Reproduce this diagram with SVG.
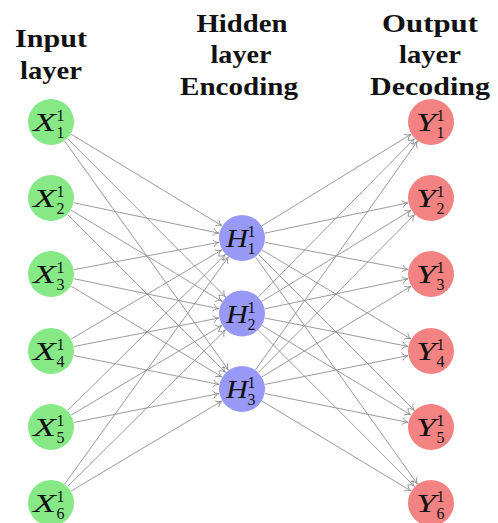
<svg xmlns="http://www.w3.org/2000/svg" width="498" height="523" viewBox="0 0 498 523">
<style>
.title{font-family:'Liberation Serif','DejaVu Serif',serif;font-weight:bold;font-size:25px;fill:#111;text-anchor:middle}
.e{stroke:#8f8f8f;stroke-width:0.9;fill:none;marker-end:url(#tip)}
.in{fill:#86e986}
.hid{fill:#9898f6}
.out{fill:#f38282}
.let{font-family:'Liberation Serif','DejaVu Serif',serif;font-style:italic;font-weight:normal;font-size:26px;fill:#111}
.dig{font-family:'Liberation Serif','DejaVu Serif',serif;font-weight:normal;font-size:16px;fill:#111}
</style>
<defs>
<marker id="tip" markerUnits="userSpaceOnUse" viewBox="-7 -5 9 10" refX="0" refY="0" markerWidth="9" markerHeight="10" orient="auto" overflow="visible">
<path d="M-5.5,-3.4 C-4.3,-1.3 -1.6,-0.3 0,0 C-1.6,0.3 -4.3,1.3 -5.5,3.4" fill="none" stroke="#8f8f8f" stroke-width="0.9" stroke-linecap="round"/>
</marker>
</defs>
<rect width="498" height="523" fill="#ffffff"/>
<g id="titles">
<text class="title" x="51" y="47" textLength="72" lengthAdjust="spacingAndGlyphs">Input</text>
<text class="title" x="51" y="79" textLength="62" lengthAdjust="spacingAndGlyphs">layer</text>
<text class="title" x="242" y="32" textLength="91" lengthAdjust="spacingAndGlyphs">Hidden</text>
<text class="title" x="241" y="63" textLength="61" lengthAdjust="spacingAndGlyphs">layer</text>
<text class="title" x="239" y="95" textLength="118" lengthAdjust="spacingAndGlyphs">Encoding</text>
<text class="title" x="430" y="32" textLength="96" lengthAdjust="spacingAndGlyphs">Output</text>
<text class="title" x="430" y="63" textLength="62" lengthAdjust="spacingAndGlyphs">layer</text>
<text class="title" x="430" y="95" textLength="120" lengthAdjust="spacingAndGlyphs">Decoding</text>
</g>
<g id="connectors">
<line class="e" x1="71.09" y1="134.20" x2="221.91" y2="225.80"/>
<line class="e" x1="74.00" y1="202.82" x2="219.00" y2="233.18"/>
<line class="e" x1="74.09" y1="269.65" x2="218.91" y2="242.35"/>
<line class="e" x1="71.23" y1="339.03" x2="221.77" y2="249.97"/>
<line class="e" x1="67.70" y1="410.47" x2="225.30" y2="254.53"/>
<line class="e" x1="64.74" y1="483.94" x2="228.26" y2="257.06"/>
<line class="e" x1="67.60" y1="138.64" x2="225.40" y2="296.86"/>
<line class="e" x1="71.11" y1="210.16" x2="221.89" y2="301.34"/>
<line class="e" x1="74.01" y1="278.76" x2="218.99" y2="308.74"/>
<line class="e" x1="74.06" y1="346.47" x2="218.94" y2="318.03"/>
<line class="e" x1="71.20" y1="414.99" x2="221.80" y2="325.51"/>
<line class="e" x1="67.68" y1="486.45" x2="225.32" y2="330.05"/>
<line class="e" x1="64.67" y1="141.11" x2="228.33" y2="369.89"/>
<line class="e" x1="67.62" y1="214.62" x2="225.38" y2="372.38"/>
<line class="e" x1="71.13" y1="286.12" x2="221.87" y2="376.88"/>
<line class="e" x1="74.05" y1="355.59" x2="218.95" y2="384.41"/>
<line class="e" x1="74.05" y1="422.41" x2="218.95" y2="393.59"/>
<line class="e" x1="71.18" y1="490.96" x2="221.82" y2="401.04"/>
<line class="e" x1="262.03" y1="225.71" x2="410.97" y2="134.29"/>
<line class="e" x1="264.99" y1="233.13" x2="408.01" y2="202.87"/>
<line class="e" x1="265.08" y1="242.40" x2="407.92" y2="269.60"/>
<line class="e" x1="262.17" y1="250.06" x2="410.83" y2="338.94"/>
<line class="e" x1="258.62" y1="254.62" x2="414.38" y2="410.38"/>
<line class="e" x1="255.65" y1="257.13" x2="417.35" y2="483.87"/>
<line class="e" x1="258.51" y1="296.77" x2="414.49" y2="138.73"/>
<line class="e" x1="262.05" y1="301.25" x2="410.95" y2="210.25"/>
<line class="e" x1="265.00" y1="308.69" x2="408.00" y2="278.81"/>
<line class="e" x1="265.05" y1="318.07" x2="407.95" y2="346.43"/>
<line class="e" x1="262.15" y1="325.60" x2="410.85" y2="414.90"/>
<line class="e" x1="258.60" y1="330.14" x2="414.40" y2="486.36"/>
<line class="e" x1="255.58" y1="369.82" x2="417.42" y2="141.18"/>
<line class="e" x1="258.53" y1="372.30" x2="414.47" y2="214.70"/>
<line class="e" x1="262.08" y1="376.78" x2="410.92" y2="286.22"/>
<line class="e" x1="265.04" y1="384.37" x2="407.96" y2="355.63"/>
<line class="e" x1="265.04" y1="393.63" x2="407.96" y2="422.37"/>
<line class="e" x1="262.12" y1="401.14" x2="410.88" y2="490.86"/>
</g>
<g id="X1"><circle class="in" cx="51" cy="122" r="23"/><text class="let" x="33" y="131" textLength="23" lengthAdjust="spacingAndGlyphs">X</text><text class="dig" x="56.5" y="121">1</text><text class="dig" x="56.5" y="138">1</text></g>
<g id="X2"><circle class="in" cx="51" cy="198" r="23"/><text class="let" x="33" y="207" textLength="23" lengthAdjust="spacingAndGlyphs">X</text><text class="dig" x="56.5" y="197">1</text><text class="dig" x="56.5" y="214">2</text></g>
<g id="X3"><circle class="in" cx="51" cy="274" r="23"/><text class="let" x="33" y="283" textLength="23" lengthAdjust="spacingAndGlyphs">X</text><text class="dig" x="56.5" y="273">1</text><text class="dig" x="56.5" y="290">3</text></g>
<g id="X4"><circle class="in" cx="51" cy="351" r="23"/><text class="let" x="33" y="360" textLength="23" lengthAdjust="spacingAndGlyphs">X</text><text class="dig" x="56.5" y="350">1</text><text class="dig" x="56.5" y="367">4</text></g>
<g id="X5"><circle class="in" cx="51" cy="427" r="23"/><text class="let" x="33" y="436" textLength="23" lengthAdjust="spacingAndGlyphs">X</text><text class="dig" x="56.5" y="426">1</text><text class="dig" x="56.5" y="443">5</text></g>
<g id="X6"><circle class="in" cx="51" cy="503" r="23"/><text class="let" x="33" y="512" textLength="23" lengthAdjust="spacingAndGlyphs">X</text><text class="dig" x="56.5" y="502">1</text><text class="dig" x="56.5" y="519">6</text></g>
<g id="H1"><circle class="hid" cx="242" cy="238" r="23"/><text class="let" x="226" y="247" textLength="22" lengthAdjust="spacingAndGlyphs">H</text><text class="dig" x="247.5" y="237">1</text><text class="dig" x="247.5" y="254">1</text></g>
<g id="H2"><circle class="hid" cx="242" cy="313.5" r="23"/><text class="let" x="226" y="322.5" textLength="22" lengthAdjust="spacingAndGlyphs">H</text><text class="dig" x="247.5" y="312.5">1</text><text class="dig" x="247.5" y="329.5">2</text></g>
<g id="H3"><circle class="hid" cx="242" cy="389" r="23"/><text class="let" x="226" y="398" textLength="22" lengthAdjust="spacingAndGlyphs">H</text><text class="dig" x="247.5" y="388">1</text><text class="dig" x="247.5" y="405">3</text></g>
<g id="Y1"><circle class="out" cx="431" cy="122" r="23"/><text class="let" x="416" y="131" textLength="20" lengthAdjust="spacingAndGlyphs">Y</text><text class="dig" x="436.5" y="121">1</text><text class="dig" x="436.5" y="138">1</text></g>
<g id="Y2"><circle class="out" cx="431" cy="198" r="23"/><text class="let" x="416" y="207" textLength="20" lengthAdjust="spacingAndGlyphs">Y</text><text class="dig" x="436.5" y="197">1</text><text class="dig" x="436.5" y="214">2</text></g>
<g id="Y3"><circle class="out" cx="431" cy="274" r="23"/><text class="let" x="416" y="283" textLength="20" lengthAdjust="spacingAndGlyphs">Y</text><text class="dig" x="436.5" y="273">1</text><text class="dig" x="436.5" y="290">3</text></g>
<g id="Y4"><circle class="out" cx="431" cy="351" r="23"/><text class="let" x="416" y="360" textLength="20" lengthAdjust="spacingAndGlyphs">Y</text><text class="dig" x="436.5" y="350">1</text><text class="dig" x="436.5" y="367">4</text></g>
<g id="Y5"><circle class="out" cx="431" cy="427" r="23"/><text class="let" x="416" y="436" textLength="20" lengthAdjust="spacingAndGlyphs">Y</text><text class="dig" x="436.5" y="426">1</text><text class="dig" x="436.5" y="443">5</text></g>
<g id="Y6"><circle class="out" cx="431" cy="503" r="23"/><text class="let" x="416" y="512" textLength="20" lengthAdjust="spacingAndGlyphs">Y</text><text class="dig" x="436.5" y="502">1</text><text class="dig" x="436.5" y="519">6</text></g>
</svg>
